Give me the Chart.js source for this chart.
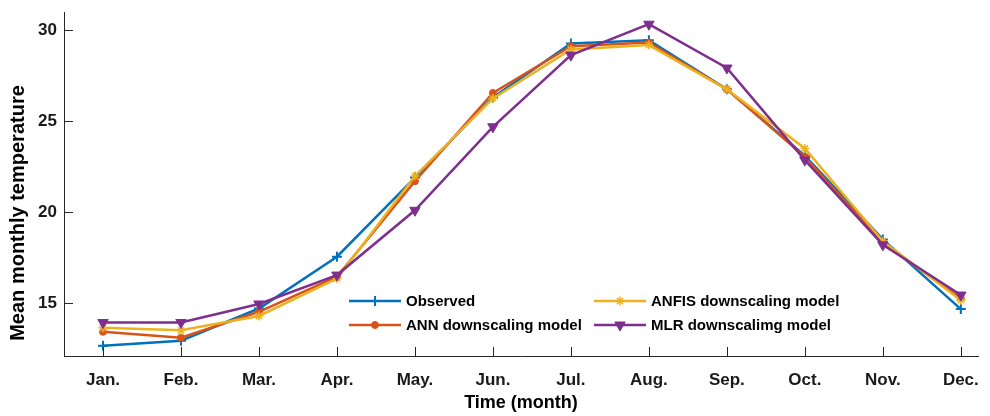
<!DOCTYPE html>
<html>
<head>
<meta charset="utf-8">
<script src="https://cdn.jsdelivr.net/npm/chart.js@4.4.1/dist/chart.umd.min.js"></script>
<style>
  html, body { margin: 0; padding: 0; background: #fff; }
  #wrap { width: 990px; height: 416px; }
</style>
</head>
<body>
<div id="wrap"><canvas id="c" width="990" height="416"></canvas></div>
<script>
// Month labels along the x axis
const months = ['Jan.', 'Feb.', 'Mar.', 'Apr.', 'May.', 'Jun.', 'Jul.', 'Aug.', 'Sep.', 'Oct.', 'Nov.', 'Dec.'];
// Mean monthly temperature per model
const observed = [12.65, 12.93, 14.70, 17.55, 21.90, 26.30, 29.27, 29.45, 26.75, 23.10, 18.50, 14.67];
const annModel = [13.42, 13.10, 14.52, 16.45, 21.70, 26.55, 29.12, 29.32, 26.75, 23.04, 18.30, 15.27];
const anfisModel = [13.64, 13.50, 14.29, 16.35, 21.98, 26.25, 28.94, 29.18, 26.75, 23.50, 18.40, 15.16];
const mlrModel = [13.93, 13.93, 14.95, 16.54, 20.10, 24.69, 28.63, 30.33, 27.92, 22.86, 18.20, 15.44];
// Y tick values
const yTicks = [15, 20, 25, 30];
const yTitle = 'Mean monthly temperature';

const COLORS = { blue: '#0072BD', orange: '#D95319', yellow: '#EDB120', purple: '#7E2F8E' };
const AXIS = '#262626';
const FONT = "'Liberation Sans', Arial, sans-serif";

const toPoints = arr => arr.map((v, i) => ({ x: i, y: v }));

const series = [
  { label: 'Observed', data: observed, color: COLORS.blue, style: 'cross', radius: 5, bw: 2, order: 4 },
  { label: 'ANN downscaling model', data: annModel, color: COLORS.orange, style: 'circle', radius: 3.5, bw: 1, order: 3 },
  { label: 'ANFIS downscaling model', data: anfisModel, color: COLORS.yellow, style: 'star', radius: 4.5, bw: 1.5, order: 2 },
  { label: 'MLR downscalimg model', data: mlrModel, color: COLORS.purple, style: 'triangle', radius: 6, bw: 1, rot: 180, order: 1 }
];

// Inward-pointing tick marks on the left and bottom axes
const innerTicks = {
  id: 'innerTicks',
  afterDraw(chart) {
    const { ctx, chartArea, scales } = chart;
    const len = 9;
    ctx.save();
    ctx.strokeStyle = AXIS;
    ctx.lineWidth = 1;
    scales.y.ticks.forEach(t => {
      const y = Math.round(scales.y.getPixelForValue(t.value)) + 0.5;
      ctx.beginPath(); ctx.moveTo(chartArea.left, y); ctx.lineTo(chartArea.left + len, y); ctx.stroke();
    });
    scales.x.ticks.forEach(t => {
      const x = Math.round(scales.x.getPixelForValue(t.value)) + 0.5;
      ctx.beginPath(); ctx.moveTo(x, chartArea.bottom); ctx.lineTo(x, chartArea.bottom - len); ctx.stroke();
    });
    ctx.restore();
  }
};

// Rotated y-axis title, set a little below the axis midpoint
const yAxisTitle = {
  id: 'yAxisTitle',
  afterDraw(chart) {
    const { ctx, chartArea } = chart;
    const cy = (chartArea.top + chartArea.bottom) / 2 + 29;
    ctx.save();
    ctx.translate(18, cy);
    ctx.rotate(-Math.PI / 2);
    ctx.font = "bold 20px " + FONT;
    ctx.fillStyle = '#000';
    ctx.textAlign = 'center';
    ctx.textBaseline = 'middle';
    ctx.fillText(yTitle, 0, 0);
    ctx.restore();
  }
};

// Two-column legend inside the plot area
const boxLegend = {
  id: 'boxLegend',
  afterDatasetsDraw(chart) {
    const { ctx, chartArea } = chart;
    const cols = [chartArea.left + 285, chartArea.left + 530];
    const rows = [chartArea.bottom - 55, chartArea.bottom - 31];
    const slots = [[0, 0], [0, 1], [1, 0], [1, 1]]; // [col,row] for each series
    const lineLen = 52;
    ctx.save();
    ctx.font = "bold 15px " + FONT;
    ctx.textBaseline = 'middle';
    ctx.textAlign = 'left';
    series.forEach((s, i) => {
      const x0 = cols[slots[i][0]], y = rows[slots[i][1]];
      ctx.strokeStyle = s.color;
      ctx.fillStyle = s.color;
      ctx.lineWidth = 2.5;
      ctx.beginPath(); ctx.moveTo(x0, y); ctx.lineTo(x0 + lineLen, y); ctx.stroke();
      ctx.lineWidth = s.bw;
      Chart.helpers.drawPoint(ctx, { pointStyle: s.style, rotation: s.rot || 0, radius: s.radius, borderWidth: s.bw }, x0 + lineLen / 2, y);
      ctx.fillStyle = '#000';
      ctx.fillText(s.label, x0 + lineLen + 5, y + 1);
    });
    ctx.restore();
  }
};

new Chart(document.getElementById('c'), {
  type: 'line',
  data: {
    datasets: series.map(s => ({
      label: s.label,
      data: toPoints(s.data),
      borderColor: s.color,
      backgroundColor: s.color,
      borderWidth: 2.5,
      pointStyle: s.style,
      pointRadius: s.radius,
      pointHoverRadius: s.radius,
      pointBorderWidth: s.bw,
      pointRotation: s.rot || 0,
      tension: 0,
      order: s.order
    }))
  },
  options: {
    responsive: false,
    animation: false,
    events: [],
    layout: { padding: { top: 12, right: 12, bottom: 0, left: 0 } },
    plugins: { legend: { display: false }, tooltip: { enabled: false } },
    scales: {
      x: {
        type: 'linear',
        min: -0.5,
        max: 11.22,
        afterBuildTicks(scale) { scale.ticks = months.map((m, i) => ({ value: i })); },
        afterFit(scale) { scale.height = 60; scale.paddingLeft = 0; scale.paddingRight = 0; },
        grid: { display: false, drawTicks: false },
        border: { display: true, color: AXIS, width: 1 },
        ticks: {
          autoSkip: false,
          maxRotation: 0,
          padding: 14,
          color: '#1a1a1a',
          font: { family: FONT, size: 17, weight: 'bold' },
          callback: v => months[v]
        },
        title: {
          display: true,
          text: 'Time (month)',
          color: '#000',
          font: { family: FONT, size: 18, weight: 'bold' },
          padding: { top: 0, bottom: 2 }
        }
      },
      y: {
        min: 12.09,
        max: 31,
        afterBuildTicks(scale) { scale.ticks = yTicks.map(v => ({ value: v })); },
        afterFit(scale) { scale.width = 64; scale.paddingTop = 0; scale.paddingBottom = 0; },
        grid: { display: false, drawTicks: false },
        border: { display: true, color: AXIS, width: 1 },
        ticks: {
          padding: 7,
          color: '#1a1a1a',
          font: { family: FONT, size: 17, weight: 'bold' }
        },
        title: { display: false }
      }
    }
  },
  plugins: [innerTicks, yAxisTitle, boxLegend]
});
</script>
</body>
</html>
